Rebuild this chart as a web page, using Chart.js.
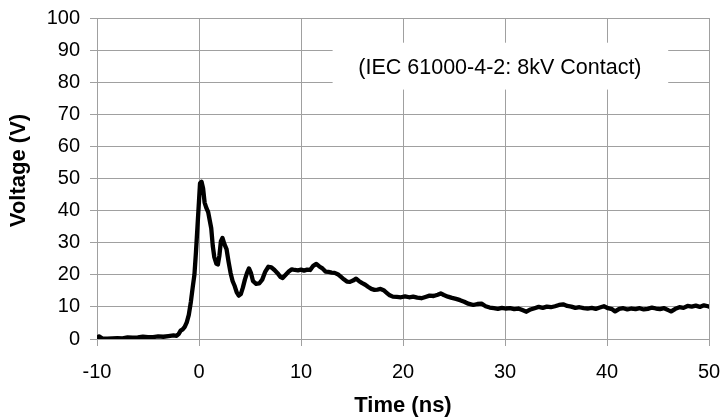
<!DOCTYPE html>
<html>
<head>
<meta charset="utf-8">
<script src="https://cdn.jsdelivr.net/npm/chart.js@4/dist/chart.umd.min.js"></script>
<style>
  html, body { margin: 0; padding: 0; background: #ffffff; }
  #wrap { width: 721px; height: 419px; position: relative; }
</style>
</head>
<body>
<div id="wrap"><canvas id="c" width="721" height="419"></canvas></div>
<script>
const timeNs = [
  -10.0, -9.8, -9.5, -9.0, -8.5, -8.0, -7.5, -7.0, -6.5, -6.0, -5.5, -5.0, -4.5, -4.0, -3.5, -3.0, -2.5, -2.2, -2.0,
  -1.8, -1.6, -1.4, -1.2, -1.0, -0.8, -0.6, -0.45, -0.3, -0.15, 0.0, 0.1, 0.25, 0.4, 0.55, 0.7, 0.9, 1.05, 1.2,
  1.35, 1.5, 1.7, 1.85, 2.0, 2.15, 2.3, 2.5, 2.7, 2.9, 3.1, 3.3, 3.5, 3.7, 3.9, 4.1, 4.3, 4.5, 4.7, 4.9, 5.1, 5.3,
  5.6, 5.9, 6.2, 6.5, 6.8, 7.1, 7.4, 7.7, 8.0, 8.2, 8.5, 8.8, 9.1, 9.4, 9.7, 10.0, 10.3, 10.6, 10.9, 11.2, 11.5,
  11.8, 12.1, 12.4, 12.7, 13.0, 13.3, 13.6, 13.9, 14.2, 14.5, 14.8, 15.1, 15.4, 15.7, 16.0, 16.3, 16.6, 16.9,
  17.2, 17.5, 17.8, 18.1, 18.4, 18.7, 19.0, 19.4, 19.8, 20.2, 20.6, 21.0, 21.4, 21.8, 22.2, 22.6, 23.0, 23.4,
  23.7, 24.0, 24.4, 24.8, 25.2, 25.6, 26.0, 26.4, 26.9, 27.3, 27.7, 28.1, 28.5, 28.9, 29.3, 29.7, 30.1, 30.5,
  30.9, 31.3, 31.7, 32.1, 32.5, 32.9, 33.3, 33.7, 34.1, 34.5, 34.9, 35.3, 35.7, 36.1, 36.5, 36.9, 37.3, 37.7,
  38.1, 38.5, 38.9, 39.3, 39.7, 40.1, 40.5, 40.8, 41.2, 41.6, 42.0, 42.4, 42.8, 43.2, 43.6, 44.0, 44.4, 44.8,
  45.2, 45.6, 46.0, 46.3, 46.7, 47.1, 47.5, 47.9, 48.3, 48.7, 49.1, 49.5, 49.9, 50.0
];
const voltageV = [
  0.4, 0.8, 0.2, 0.1, 0.2, 0.3, 0.2, 0.5, 0.4, 0.5, 0.7, 0.6, 0.6, 0.8, 0.7, 0.9, 1.1, 1.0, 1.5,
  2.6, 3.0, 3.8, 5.2, 7.5, 11.5, 16.5, 20.0, 27.0, 35.0, 43.0, 48.5, 49.0, 47.0, 42.5, 41.0, 39.5, 37.0, 34.5,
  29.0, 25.5, 23.5, 23.2, 26.0, 30.5, 31.5, 29.5, 28.0, 24.0, 20.5, 18.0, 16.5, 14.5, 13.5, 14.0, 16.0, 18.5, 20.5, 22.0, 20.5, 18.0,
  17.2, 17.3, 18.5, 21.0, 22.5, 22.3, 21.5, 20.5, 19.3, 19.0, 20.0, 21.0, 21.7, 21.5, 21.4, 21.6, 21.3, 21.6, 21.5, 22.8, 23.4,
  22.6, 22.0, 21.0, 20.9, 20.7, 20.6, 20.2, 19.4, 18.6, 17.9, 17.8, 18.2, 18.8, 18.0, 17.4, 16.9, 16.2, 15.6,
  15.3, 15.4, 15.6, 15.2, 14.4, 13.6, 13.2, 13.1, 13.0, 13.3, 13.0, 13.2, 12.9, 12.7, 13.1, 13.5, 13.4, 13.8,
  14.2, 13.7, 13.2, 12.8, 12.5, 12.1, 11.6, 11.0, 10.6, 10.9, 11.0, 10.2, 9.8, 9.6, 9.4, 9.7, 9.5, 9.6,
  9.3, 9.5, 9.0, 8.5, 9.2, 9.6, 10.0, 9.7, 10.1, 9.9, 10.2, 10.6, 10.8, 10.3, 10.1, 9.7, 9.9, 9.6,
  9.5, 9.7, 9.4, 9.8, 10.2, 9.6, 9.3, 8.6, 9.4, 9.6, 9.2, 9.5, 9.3, 9.6, 9.2, 9.4, 9.8, 9.5,
  9.3, 9.6, 9.0, 8.6, 9.4, 9.9, 9.7, 10.3, 10.1, 10.4, 10.0, 10.5, 10.2, 10.1
];
const xTicks = [-10, 0, 10, 20, 30, 40, 50];
const yTicks = [0, 10, 20, 30, 40, 50, 60, 70, 80, 90, 100];
const xTitle = 'Time (ns)';
const yTitle = 'Voltage (V)';
const noteText = '(IEC 61000-4-2: 8kV Contact)';
const noteBox = { x0: 13.1, x1: 46.0, y0: 77.7, y1: 92.3, tx: 29.5, ty: 84.5 };

const FONT = "'Liberation Sans', Arial, sans-serif";
const GRID = '#a0a0a0';

const notePlugin = {
  id: 'note',
  beforeDatasetsDraw(chart) {
    const { ctx, scales: { x, y } } = chart;
    const l = x.getPixelForValue(noteBox.x0), r = x.getPixelForValue(noteBox.x1);
    const t = y.getPixelForValue(noteBox.y1), b = y.getPixelForValue(noteBox.y0);
    ctx.save();
    ctx.fillStyle = '#ffffff';
    ctx.fillRect(l, t, r - l, b - t);
    ctx.fillStyle = '#000000';
    ctx.font = '21.5px ' + FONT;
    ctx.textAlign = 'center';
    ctx.textBaseline = 'middle';
    ctx.fillText(noteText, x.getPixelForValue(noteBox.tx), y.getPixelForValue(noteBox.ty));
    ctx.restore();
  },
  afterDraw(chart) {
    // y-axis title, placed like the reference (slightly above plot-area centre)
    const { ctx } = chart;
    ctx.save();
    ctx.translate(19, 170.5);
    ctx.rotate(-Math.PI / 2);
    ctx.fillStyle = '#000000';
    ctx.font = 'bold 22px ' + FONT;
    ctx.textAlign = 'center';
    ctx.textBaseline = 'middle';
    ctx.fillText(yTitle, 0, 0);
    ctx.restore();
  }
};

new Chart(document.getElementById('c'), {
  type: 'line',
  data: {
    datasets: [{
      data: timeNs.map((t, i) => ({ x: t, y: voltageV[i] })),
      borderColor: '#000000',
      borderWidth: 4.3,
      pointRadius: 0,
      tension: 0,
      borderJoinStyle: 'round',
      borderCapStyle: 'round',
      fill: false
    }]
  },
  options: {
    responsive: false,
    animation: false,
    devicePixelRatio: 1,
    layout: { padding: { top: 18, right: 12, left: 0, bottom: 0 } },
    plugins: { legend: { display: false }, tooltip: { enabled: false } },
    scales: {
      x: {
        type: 'linear',
        min: -10, max: 50,
        afterBuildTicks(s) { s.ticks = xTicks.map(v => ({ value: v })); },
        afterFit(s) { s.height = 80; s.paddingLeft = 0; s.paddingRight = 0; },
        grid: { color: GRID, lineWidth: 1, tickLength: 7, tickColor: GRID },
        border: { color: GRID, width: 1 },
        ticks: { color: '#000', font: { family: FONT, size: 20 }, padding: 14, maxRotation: 0 },
        title: { display: true, text: xTitle, color: '#000', font: { family: FONT, size: 22, weight: 'bold' }, padding: { top: 0, bottom: 0 } }
      },
      y: {
        type: 'linear',
        min: 0, max: 100,
        afterBuildTicks(s) { s.ticks = yTicks.map(v => ({ value: v })); },
        afterFit(s) { s.width = 97; s.paddingTop = 0; s.paddingBottom = 0; },
        grid: { color: GRID, lineWidth: 1, tickLength: 7, tickColor: GRID },
        border: { color: GRID, width: 1 },
        ticks: { color: '#000', font: { family: FONT, size: 20 }, padding: 10 },
        title: { display: false, text: yTitle }
      }
    }
  },
  plugins: [notePlugin]
});
</script>
</body>
</html>
